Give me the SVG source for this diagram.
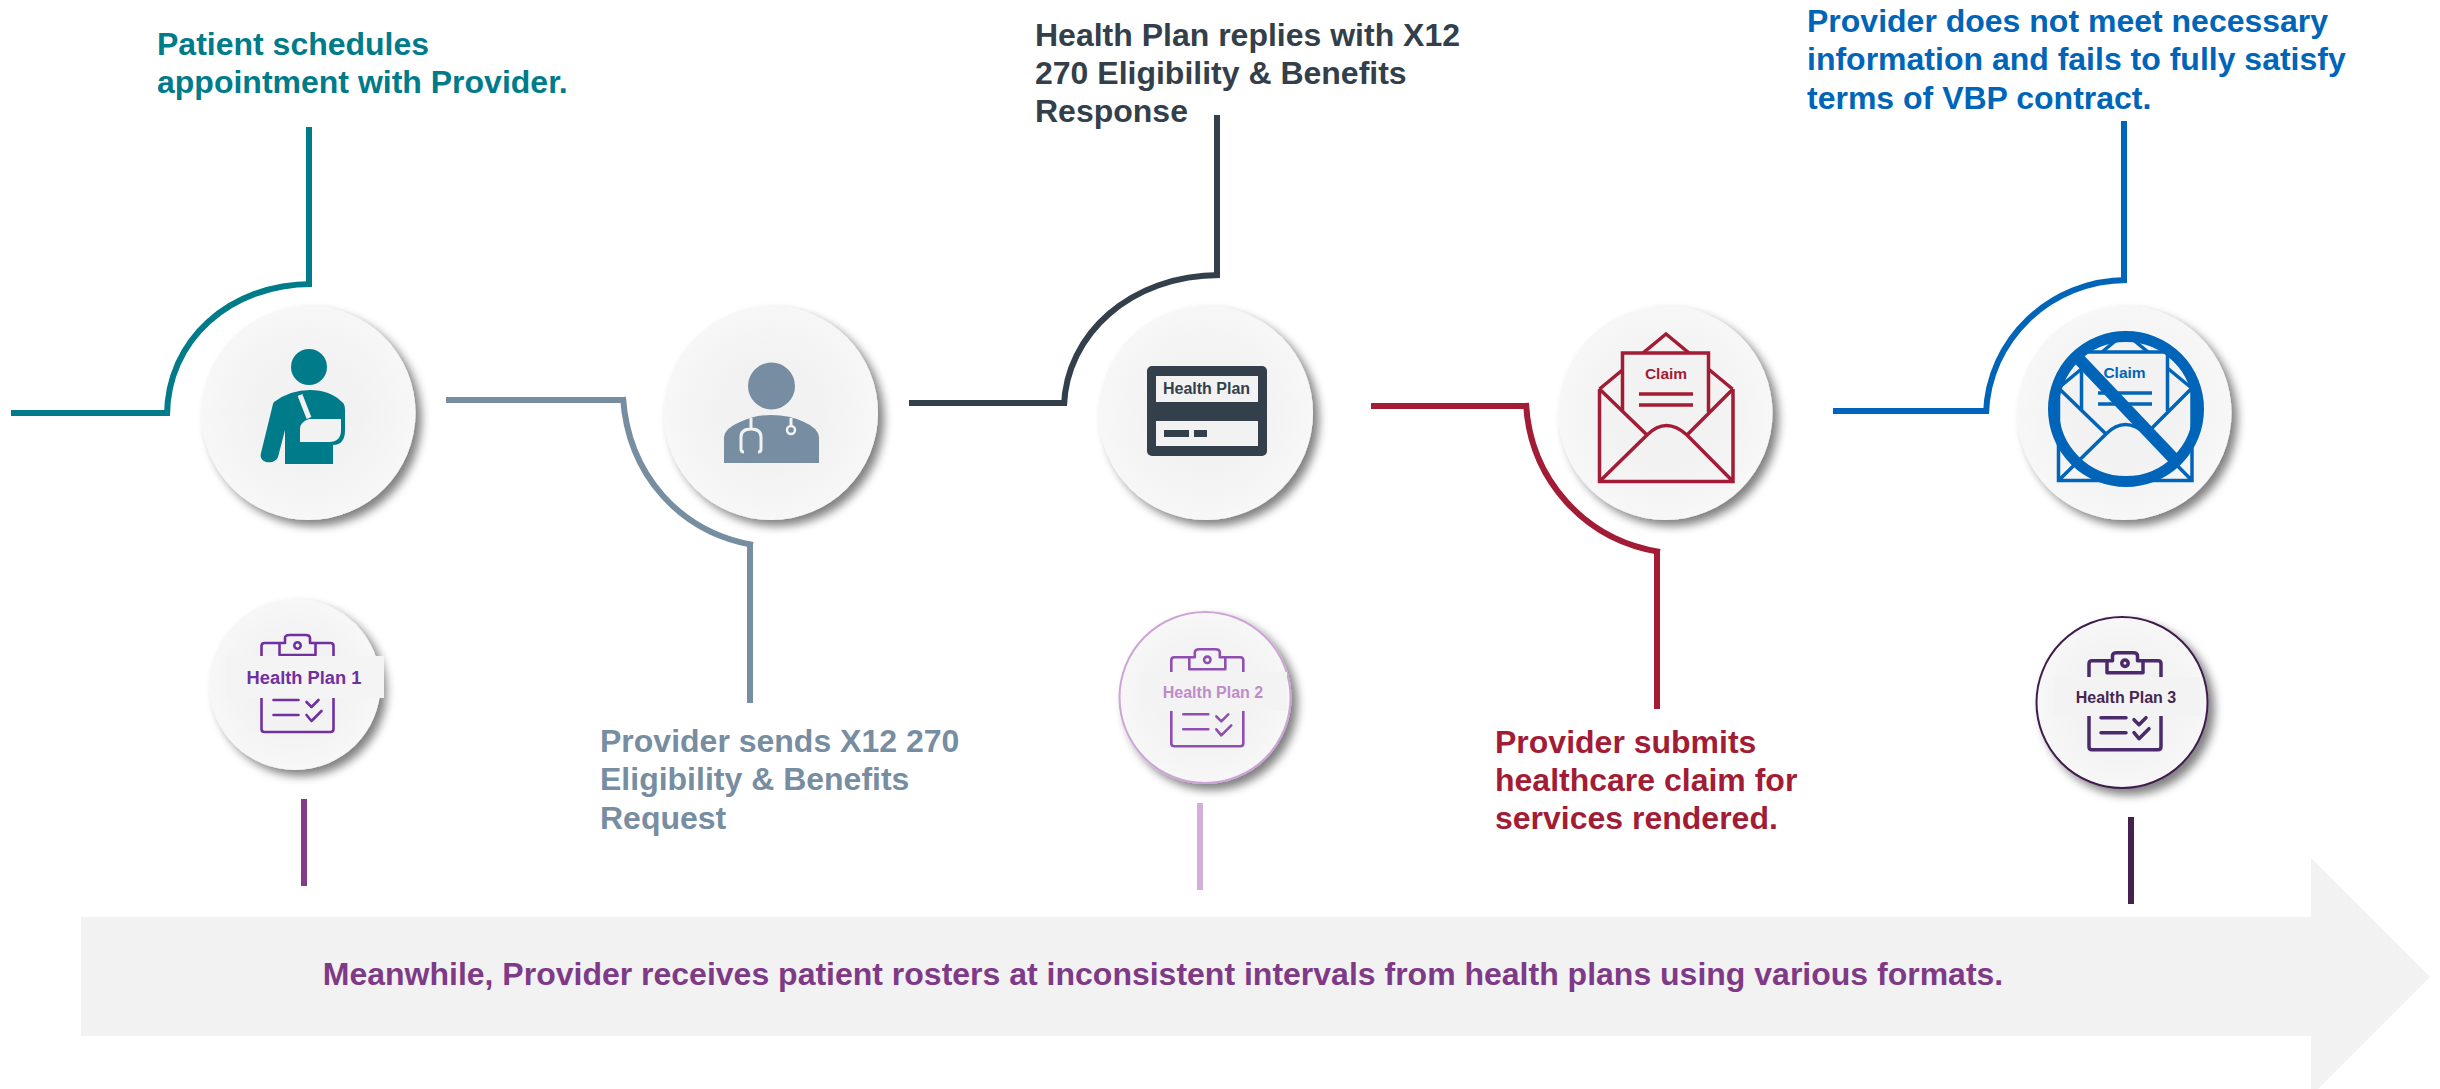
<svg xmlns="http://www.w3.org/2000/svg" xmlns:xlink="http://www.w3.org/1999/xlink" width="2440" height="1089" viewBox="0 0 2440 1089">
<style>
text{font-family:"Liberation Sans",Arial,sans-serif;font-weight:700}
.cap{font-size:32px}
.ln{fill:none;stroke-width:6}
.disc{fill:url(#dg);filter:url(#ds)}
.clip{fill:none;stroke-width:2.600;stroke-linejoin:round;stroke-linecap:round}
.mid{text-anchor:middle}
</style>
<defs>
<radialGradient id="dg"><stop offset="0.5" stop-color="#f2f2f2"/><stop offset="1" stop-color="#f7f7f7"/></radialGradient>
<filter id="ds" x="-20%" y="-20%" width="150%" height="150%"><feGaussianBlur in="SourceAlpha" stdDeviation="5"/><feOffset dx="6" dy="6"/><feComponentTransfer><feFuncA type="linear" slope="0.5"/></feComponentTransfer><feMerge><feMergeNode/><feMergeNode in="SourceGraphic"/></feMerge></filter>
<g id="clipboard">
<path d="M-18 20V8H-12.500V3Q-12.500 0-8 0H8Q12.500 0 12.500 3V8H18V20ZM-18 8H-33Q-36 8-36 11V94Q-36 97-33 97H33Q36 97 36 94V11Q36 8 33 8H18"/>
<circle cx="0" cy="10.500" r="3.200"/>
<path d="M-24 65H1M-24 80H1M9 67L14 72L21 65M9 80L14 86L24 76"/>
</g>
<g id="envelope">
<path d="M1599.500 389L1666 334L1732.500 389" />
<rect x="1622.500" y="353" width="85" height="66" fill="#f2f2f2" stroke="none"/>
<path d="M1622.500 412V353H1708.500V412"/>
<path d="M1599.500 389V481.500H1733V389M1599.500 389L1647 435M1733 389L1687 435M1599.500 481.500L1647 435Q1666 416 1687 435L1733 481.500"/>
<path d="M1639 394H1693M1639 405H1693"/>
</g>
</defs>
<rect width="2440" height="1089" fill="#fff"/>
<polygon id="band" points="81,917 2311,917 2311,858 2430,977 2311,1096 2311,1036 81,1036" fill="#f2f2f2"/>
<g id="connectors" class="ln">
<g stroke="#007b8a" class="ln"><path d="M11 413H170"/><path d="M167 416C167 340 230 284 312 284"/><path d="M309 127V287"/></g>
<g stroke="#778da1" class="ln"><path d="M446 400H626"/><path d="M623 397C628 475 680 532 753 545"/><path d="M750 542V703"/></g>
<g stroke="#333f4a" class="ln"><path d="M909 403H1067"/><path d="M1064 406C1066 335 1130 275 1220 275"/><path d="M1217 115V278"/></g>
<g stroke="#a31c35" class="ln"><path d="M1371 406H1529"/><path d="M1526 403C1530 480 1585 540 1660 552"/><path d="M1657 549V709"/></g>
<g stroke="#0065b8" class="ln"><path d="M1833 411H1989"/><path d="M1986 414C1988 340 2050 280 2127 280"/><path d="M2124 121V283"/></g>
<path class="ln" stroke="#833c87" d="M304 799V886"/>
<path class="ln" stroke="#d2aed8" d="M1200 803V890"/>
<path class="ln" stroke="#45214f" d="M2131 817V904"/>
</g>
<g id="node-patient">
<circle class="disc" cx="308.500" cy="413" r="107"/>
<circle cx="309" cy="367" r="18" fill="#007b8a"/>
<path fill="#007b8a" d="M274 402Q290 390 310 390Q330 390 342 402Q345 404 345 410V430Q345 445 333 445V464H285V430L278 457C274 466 258 463 261 453L272 408Q273 403 274 402Z"/>
<path fill="none" stroke="#f2f2f2" stroke-width="5" d="M300 395L309 418"/>
<path fill="#f2f2f2" d="M300 442V429Q300 422 309 419H341V430Q341 442 329 442Z"/>
<text class="cap" x="157" y="55" fill="#007b8a">Patient schedules</text>
<text class="cap" x="157" y="93" fill="#007b8a">appointment with Provider.</text>
</g>
<g id="node-provider">
<circle class="disc" cx="771" cy="413" r="107"/>
<circle cx="771.500" cy="386" r="23.500" fill="#778da1"/>
<path fill="#778da1" d="M724 463V437Q725 428 740 422Q755 415 771 415Q790 415 804 422Q818 428 819 437V463Z"/>
<path fill="none" stroke="#f2f2f2" stroke-width="3" d="M751 418V429M744 452Q741 452 741 449V437Q741 429 751 429Q761 429 761 437V449Q761 452 758 452M791 418V426"/>
<circle cx="791" cy="430" r="4" fill="none" stroke="#f2f2f2" stroke-width="2.500"/>
<text class="cap" x="600" y="752" fill="#778da1">Provider sends X12 270</text>
<text class="cap" x="600" y="790" fill="#778da1">Eligibility &amp; Benefits</text>
<text class="cap" x="600" y="829" fill="#778da1">Request</text>
</g>
<g id="node-healthplan">
<circle class="disc" cx="1206" cy="413" r="107"/>
<rect x="1147" y="366" width="120" height="90" rx="5" fill="#333f4a"/>
<rect x="1156" y="376" width="102" height="26" fill="#f2f2f2"/>
<rect x="1156" y="421" width="102" height="25" fill="#f2f2f2"/>
<rect x="1164" y="430" width="25" height="7" fill="#333f4a"/>
<rect x="1194" y="430" width="13" height="7" fill="#333f4a"/>
<text class="mid" x="1206.500" y="394" font-size="16" fill="#333f4a">Health Plan</text>
<text class="cap" x="1035" y="46" fill="#333f4a">Health Plan replies with X12</text>
<text class="cap" x="1035" y="84" fill="#333f4a">270 Eligibility &amp; Benefits</text>
<text class="cap" x="1035" y="122" fill="#333f4a">Response</text>
</g>
<g id="node-claim">
<circle class="disc" cx="1665.500" cy="413" r="107"/>
<use xlink:href="#envelope" href="#envelope" fill="none" stroke="#a31c35" stroke-width="3.500"/>
<text class="mid" x="1666" y="379" font-size="15.500" fill="#a31c35">Claim</text>
<text class="cap" x="1495" y="753" fill="#a31c35">Provider submits</text>
<text class="cap" x="1495" y="791" fill="#a31c35">healthcare claim for</text>
<text class="cap" x="1495" y="829" fill="#a31c35">services rendered.</text>
</g>
<g id="node-denied">
<circle class="disc" cx="2124.500" cy="413" r="107"/>
<use xlink:href="#envelope" href="#envelope" transform="translate(459,-1)" fill="none" stroke="#0065b8" stroke-width="3.500"/>
<text class="mid" x="2124.500" y="378" font-size="15.500" fill="#0065b8">Claim</text>
<circle cx="2126" cy="409" r="72.500" fill="none" stroke="#0065b8" stroke-width="11"/>
<path d="M2078 358L2175 460" stroke="#0065b8" stroke-width="12" fill="none"/>
<text class="cap" x="1807" y="32" fill="#0065b8">Provider does not meet necessary</text>
<text class="cap" x="1807" y="70" fill="#0065b8">information and fails to fully satisfy</text>
<text class="cap" x="1807" y="109" fill="#0065b8">terms of VBP contract.</text>
</g>
<g id="node-plan1">
<circle class="disc" cx="295" cy="684.500" r="85.500"/>
<use xlink:href="#clipboard" href="#clipboard" transform="translate(297.500,635)" class="clip" stroke="#7030a0"/>
<rect x="226" y="656" width="158" height="42" fill="#f4f4f4"/>
<text class="mid" x="304" y="684" font-size="18.300" fill="#7030a0">Health Plan 1</text>
</g>
<g id="node-plan2">
<circle class="disc" cx="1205" cy="697.500" r="85.500" stroke="#cda4d6" stroke-width="2"/>
<use xlink:href="#clipboard" href="#clipboard" transform="translate(1207.300,649.300)" class="clip" stroke="#8e4fb0"/>
<rect x="1140" y="672" width="147" height="39" fill="#f3f3f3"/>
<text class="mid" x="1213" y="698" font-size="16" fill="#c08bc8">Health Plan 2</text>
</g>
<g id="node-plan3">
<circle class="disc" cx="2122" cy="702.500" r="85.500" stroke="#3f1f4d" stroke-width="2"/>
<use xlink:href="#clipboard" href="#clipboard" transform="translate(2125,652.700)" class="clip" stroke="#4b2a6b" style="stroke-width:3.500"/>
<rect x="2053" y="677" width="147" height="39" fill="#f3f3f3"/>
<text class="mid" x="2126" y="703" font-size="16" fill="#47264f">Health Plan 3</text>
</g>
<text id="band-label" class="mid" x="1163" y="985" font-size="32" fill="#7f3a87">Meanwhile, Provider receives patient rosters at inconsistent intervals from health plans using various formats.</text>
</svg>
